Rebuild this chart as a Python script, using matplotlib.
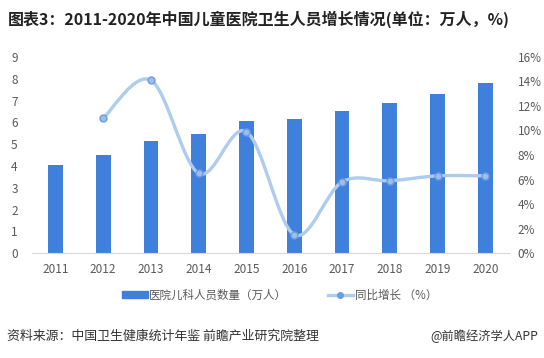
import matplotlib
matplotlib.use("Agg")
import matplotlib.pyplot as plt
import numpy as np
from matplotlib.path import Path
from matplotlib.patches import PathPatch
from matplotlib.lines import Line2D
from matplotlib.patches import Patch

plt.rcParams['font.family'] = ['Noto Sans CJK SC', 'DejaVu Sans']

years = ['2011', '2012', '2013', '2014', '2015', '2016', '2017', '2018', '2019', '2020']
staff = [4.03, 4.5, 5.13, 5.45, 6.05, 6.14, 6.51, 6.88, 7.32, 7.79]
growth_years = years[1:]
growth = [11.0, 14.1, 6.5, 9.9, 1.5, 5.8, 5.9, 6.3, 6.3]

bar_color = '#3f80dc'
line_color = '#aecbf0'
marker_color = '#6f9be0'
text_gray = '#595959'

fig = plt.figure(figsize=(5.44, 3.58), dpi=100)
ax = fig.add_axes([0.058, 0.293, 0.878, 0.548])
ax2 = ax.twinx()

x = np.arange(len(years))
ax.bar(x, staff, width=0.31, color=bar_color, zorder=2)
ax.set_xlim(-0.5, len(years) - 0.5)
ax.set_ylim(0, 9)
ax.set_yticks(range(0, 10))
ax.set_xticks(x)
ax.set_xticklabels(years)

# smooth curve through the growth points (cubic bezier, catmull-rom style)
gx = x[1:].astype(float)
gy = np.array(growth, dtype=float)
pts = np.column_stack([gx, gy])
verts = [tuple(pts[0])]
codes = [Path.MOVETO]
for i in range(len(pts) - 1):
    p0 = pts[i - 1] if i > 0 else pts[i]
    p1, p2 = pts[i], pts[i + 1]
    p3 = pts[i + 2] if i + 2 < len(pts) else pts[i + 1]
    c1 = p1 + (p2 - p0) / 6.0
    c2 = p2 - (p3 - p1) / 6.0
    verts += [tuple(c1), tuple(c2), tuple(p2)]
    codes += [Path.CURVE4] * 3
ax2.add_patch(PathPatch(Path(verts, codes), fill=False, edgecolor=line_color,
                        linewidth=2.4, zorder=3, capstyle='round'))
ax2.plot(gx, gy, linestyle='none', marker='o', markersize=5,
         markerfacecolor='#9dbdec', markeredgecolor=marker_color,
         markeredgewidth=1.0, zorder=4)
ax2.set_ylim(0, 16)
ax2.set_yticks(range(0, 17, 2))
ax2.set_yticklabels([f'{v}%' for v in range(0, 17, 2)])

for a in (ax, ax2):
    for s in a.spines.values():
        s.set_visible(False)
    a.tick_params(length=0, labelsize=8.5, colors=text_gray)
ax.spines['bottom'].set_visible(True)
ax.spines['bottom'].set_color('#d9d9d9')
ax.tick_params(axis='x', pad=7)
ax.tick_params(axis='y', pad=10)
ax2.tick_params(axis='y', pad=6)
ax.set_zorder(ax2.get_zorder() - 1)
ax2.patch.set_visible(False)

handles = [Patch(color=bar_color),
           Line2D([], [], color=line_color, linewidth=2.4, marker='o', markersize=4,
                  markerfacecolor=marker_color, markeredgecolor=marker_color)]
fig.legend(handles, ['医院儿科人员数量（万人）', '同比增长 （%）'],
           loc='center', bbox_to_anchor=(0.514, 0.175), ncol=2, frameon=False,
           fontsize=8.3, handlelength=2.2, handleheight=0.6, columnspacing=3.5,
           handletextpad=0.15, labelcolor=text_gray)

fig.text(0.015, 0.945, '图表3：2011-2020年中国儿童医院卫生人员增长情况(单位：万人，%)',
         fontsize=11.5, fontweight='bold', color='#222222', va='center')
fig.text(0.012, 0.062, '资料来源：中国卫生健康统计年鉴 前瞻产业研究院整理',
         fontsize=9.3, color='#333333', va='center')
fig.text(0.99, 0.062, '@前瞻经济学人APP', fontsize=8.8, color='#333333',
         va='center', ha='right')

fig.savefig('out.png', dpi=100)
